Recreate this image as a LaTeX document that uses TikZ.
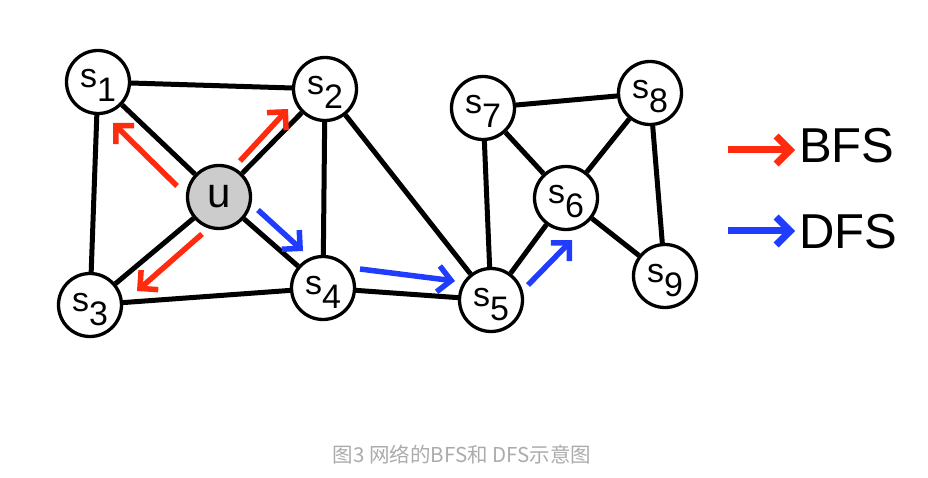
\documentclass[tikz,border=0pt]{standalone}
\usepackage{fontspec}
\setmainfont{Liberation Sans}
\newfontfamily\cjkfont{Noto Sans CJK SC}
\usetikzlibrary{arrows.meta}
\definecolor{bfsred}{HTML}{FF2B0E}
\definecolor{dfsblue}{HTML}{1F3CFF}
\definecolor{ugray}{HTML}{CCCCCC}
\definecolor{capgray}{HTML}{ABABAB}
\newcommand\slab[1]{s\raisebox{-14pt}{#1}}
\begin{document}
\begin{tikzpicture}[x=1pt,y=-1pt,
  vert/.style={circle,draw=black,line width=3.3pt,minimum size=63pt,inner sep=0pt,fill=white},
  lbl/.style={anchor=base,inner sep=0pt,font=\fontsize{34}{34}\selectfont},
  edge/.style={line width=5pt},
  bfsarrow/.style={draw=bfsred,line width=5.5pt,-{Straight Barb[length=13pt,width=26pt]}},
  dfsarrow/.style={draw=dfsblue,line width=5.5pt,-{Straight Barb[length=13pt,width=26pt]}},
  legarrowr/.style={draw=bfsred,line width=7pt,-{Straight Barb[length=14pt,width=28pt]}},
  legarrowb/.style={draw=dfsblue,line width=7pt,-{Straight Barb[length=14pt,width=28pt]}},
  legtext/.style={anchor=base west,inner sep=0pt,font=\fontsize{49}{49}\selectfont}]
\useasboundingbox (0,0) rectangle (928,478);

% vertices
\node[vert] (s1) at (98,82) {};
\node[vert] (s2) at (325,89) {};
\node[vert,fill=ugray] (u) at (219,197) {};
\node[vert] (s3) at (90,305) {};
\node[vert] (s4) at (323,288) {};
\node[vert] (s5) at (491,300) {};
\node[vert] (s6) at (566,198) {};
\node[vert] (s7) at (483,108) {};
\node[vert] (s8) at (650,93) {};
\node[vert] (s9) at (665,276) {};

% edges
\foreach \a/\b in {s1/s2,s1/u,s1/s3,u/s2,u/s3,u/s4,s2/s4,s2/s5,s3/s4,s4/s5,
                   s5/s7,s5/s6,s7/s6,s7/s8,s8/s6,s8/s9,s6/s9}
  \draw[edge] (\a) -- (\b);

% labels
\node[lbl] (l1) at ([yshift=-6pt]s1.center) {\slab{1}};
\node[lbl] (l2) at ([yshift=-6pt]s2.center) {\slab{2}};
\node[lbl] (l3) at ([yshift=-6pt]s3.center) {\slab{3}};
\node[lbl] (l4) at ([yshift=-6pt]s4.center) {\slab{4}};
\node[lbl] (l5) at ([yshift=-6pt]s5.center) {\slab{5}};
\node[lbl] (l6) at ([yshift=-6pt]s6.center) {\slab{6}};
\node[lbl] (l7) at ([yshift=-6pt]s7.center) {\slab{7}};
\node[lbl] (l8) at ([yshift=-6pt]s8.center) {\slab{8}};
\node[lbl] (l9) at ([yshift=-6pt]s9.center) {\slab{9}};
\node[font=\fontsize{42}{42}\selectfont,inner sep=0pt] (lu) at (u.center) {u};

% traversal arrows
\coordinate (a1s) at (177,186); \coordinate (a1e) at (113,123);
\coordinate (a2s) at (240,161); \coordinate (a2e) at (288,109);
\coordinate (a3s) at (202,234); \coordinate (a3e) at (137,291);
\coordinate (b1s) at (258,210); \coordinate (b1e) at (303,251);
\coordinate (b2s) at (360,269); \coordinate (b2e) at (455,281);
\coordinate (b3s) at (528,285); \coordinate (b3e) at (572,240);
\draw[bfsarrow] (a1s) -- (a1e);
\draw[bfsarrow] (a2s) -- (a2e);
\draw[bfsarrow] (a3s) -- (a3e);
\draw[dfsarrow] (b1s) -- (b1e);
\draw[dfsarrow] (b2s) -- (b2e);
\draw[dfsarrow] (b3s) -- (b3e);

% legend
\node[legtext] (tb) at (799,163) {BFS};
\node[legtext] (td) at (799,248) {DFS};
\coordinate (lr1) at (728,150); \coordinate (lr2) at (795,150);
\coordinate (lb1) at (728,231); \coordinate (lb2) at (795,231);
\draw[legarrowr] (lr1) -- (lr2);
\draw[legarrowb] (lb1) -- (lb2);

% caption
\node[font=\cjkfont\fontsize{20.5}{20.5}\selectfont,text=capgray,inner sep=0pt] (cap) at (462,455) {图3 网络的BFS和 DFS示意图};
\end{tikzpicture}
\end{document}
